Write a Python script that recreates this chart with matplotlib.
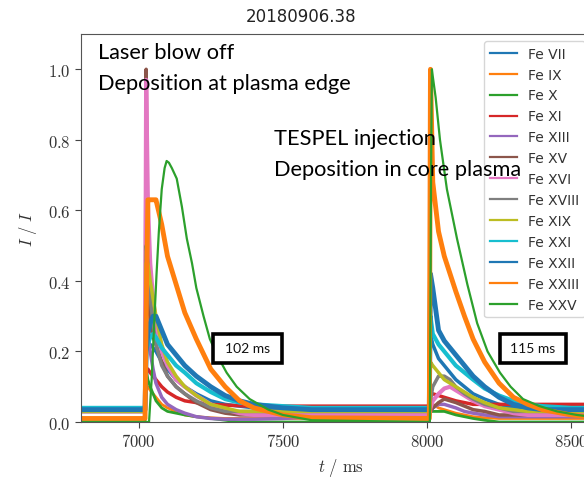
import matplotlib
matplotlib.use("Agg")
import matplotlib.pyplot as plt
from matplotlib.ticker import FuncFormatter
from matplotlib.patches import Rectangle

plt.rcParams['mathtext.fontset'] = 'cm'

title = "20180906.38"
labels = ["Fe VII", "Fe IX", "Fe X", "Fe XI", "Fe XIII", "Fe XV", "Fe XVI",
          "Fe XVIII", "Fe XIX", "Fe XXI", "Fe XXII", "Fe XXIII", "Fe XXV"]
colors = ["#1f77b4", "#ff7f0e", "#2ca02c", "#d62728", "#9467bd", "#8c564b", "#e377c2",
          "#7f7f7f", "#bcbd22", "#17becf", "#1f77b4", "#ff7f0e", "#2ca02c"]

t = [6800, 7022, 7026, 7032, 7040, 7050, 7060, 7080, 7100, 7130, 7160, 7200, 7250, 7300,
     7350, 7400, 7500, 7600, 8000, 8008, 8012, 8020, 8040, 8060, 8080, 8100, 8130, 8160,
     8200, 8250, 8300, 8350, 8400, 8500, 8600]

fe_vii = [0.035, 0.035, 0.22, 0.22, 0.22, 0.21, 0.2, 0.17, 0.15, 0.12, 0.1, 0.08, 0.06, 0.05,
          0.045, 0.04, 0.035, 0.035, 0.035, 0.035, 0.25, 0.22, 0.18, 0.16, 0.14, 0.12, 0.1, 0.08,
          0.065, 0.05, 0.04, 0.035, 0.035, 0.035, 0.035]
fe_ix = [0.01, 0.01, 0.1, 0.1, 0.09, 0.08, 0.07, 0.05, 0.04, 0.03, 0.02, 0.015, 0.012, 0.01,
         0.01, 0.01, 0.01, 0.01, 0.01, 0.01, 0.06, 0.05, 0.04, 0.035, 0.03, 0.025, 0.02, 0.015,
         0.012, 0.01, 0.01, 0.01, 0.01, 0.01, 0.01]
fe_x = [0.0, 0.0, 0.15, 0.12, 0.1, 0.08, 0.06, 0.04, 0.03, 0.025, 0.02, 0.015, 0.01, 0.005,
        0.0, 0.0, 0.0, 0.0, 0.0, 0.0, 0.03, 0.03, 0.03, 0.03, 0.025, 0.02, 0.015, 0.01,
        0.005, 0.0, 0.0, 0.0, 0.0, 0.0, 0.0]
fe_xi = [0.035, 0.035, 0.15, 0.15, 0.14, 0.13, 0.12, 0.1, 0.085, 0.07, 0.06, 0.055, 0.05, 0.048,
         0.046, 0.045, 0.045, 0.045, 0.045, 0.045, 0.08, 0.08, 0.075, 0.07, 0.065, 0.06, 0.055, 0.05,
         0.05, 0.05, 0.05, 0.05, 0.05, 0.05, 0.05]
fe_xiii = [0.04, 0.04, 0.3, 0.25, 0.2, 0.15, 0.11, 0.07, 0.05, 0.035, 0.025, 0.015, 0.01, 0.008,
           0.008, 0.008, 0.01, 0.015, 0.03, 0.03, 0.03, 0.04, 0.05, 0.05, 0.045, 0.04, 0.03, 0.025,
           0.02, 0.015, 0.015, 0.015, 0.015, 0.015, 0.015]
fe_xv = [0.03, 0.03, 1.0, 0.4, 0.28, 0.24, 0.22, 0.17, 0.13, 0.1, 0.08, 0.055, 0.035, 0.025,
         0.02, 0.02, 0.02, 0.02, 0.02, 0.02, 0.03, 0.04, 0.055, 0.065, 0.06, 0.055, 0.045, 0.035,
         0.03, 0.02, 0.02, 0.02, 0.02, 0.02, 0.02]
fe_xvi = [0.03, 0.03, 0.97, 0.62, 0.45, 0.35, 0.28, 0.2, 0.16, 0.12, 0.1, 0.075, 0.05, 0.035,
          0.025, 0.02, 0.02, 0.02, 0.02, 0.02, 0.04, 0.06, 0.08, 0.095, 0.1, 0.09, 0.075, 0.06,
          0.045, 0.035, 0.025, 0.02, 0.02, 0.02, 0.02]
fe_xviii = [0.03, 0.03, 0.5, 0.45, 0.35, 0.28, 0.22, 0.16, 0.13, 0.1, 0.08, 0.06, 0.04, 0.03,
            0.03, 0.03, 0.03, 0.03, 0.03, 0.03, 0.06, 0.1, 0.13, 0.13, 0.12, 0.1, 0.08, 0.065,
            0.05, 0.04, 0.03, 0.03, 0.03, 0.03, 0.03]
fe_xix = [0.03, 0.03, 0.45, 0.45, 0.4, 0.35, 0.3, 0.22, 0.17, 0.13, 0.1, 0.075, 0.05, 0.04,
          0.03, 0.03, 0.03, 0.03, 0.03, 0.03, 0.17, 0.16, 0.14, 0.12, 0.11, 0.1, 0.085, 0.07,
          0.055, 0.04, 0.035, 0.03, 0.03, 0.03, 0.03]
fe_xxi = [0.04, 0.04, 0.2, 0.22, 0.24, 0.25, 0.24, 0.21, 0.19, 0.16, 0.14, 0.11, 0.085, 0.065,
          0.055, 0.05, 0.045, 0.04, 0.04, 0.04, 0.3, 0.25, 0.22, 0.2, 0.18, 0.16, 0.14, 0.12,
          0.095, 0.075, 0.06, 0.05, 0.045, 0.04, 0.04]
fe_xxii = [0.035, 0.035, 0.2, 0.25, 0.28, 0.3, 0.3, 0.26, 0.22, 0.19, 0.16, 0.13, 0.1, 0.075,
           0.06, 0.05, 0.04, 0.035, 0.035, 0.035, 0.42, 0.38, 0.26, 0.23, 0.21, 0.19, 0.16, 0.13,
           0.1, 0.07, 0.05, 0.04, 0.035, 0.035, 0.035]
fe_xxiii = [0.01, 0.01, 0.3, 0.63, 0.63, 0.63, 0.63, 0.56, 0.47, 0.39, 0.31, 0.235, 0.15, 0.1,
            0.06, 0.04, 0.02, 0.012, 0.01, 0.01, 1.0, 0.68, 0.54, 0.47, 0.42, 0.37, 0.3, 0.235,
            0.17, 0.11, 0.07, 0.05, 0.035, 0.02, 0.012]

# Fe XXV is smooth, read at its own times
t_xxv = [6800, 7036, 7045, 7055, 7062, 7070, 7080, 7090, 7097, 7105, 7115, 7132, 7150, 7167,
         7185, 7200, 7225, 7247, 7275, 7305, 7340, 7385, 7450, 7500, 7600, 8000, 8010, 8014,
         8017, 8020, 8030, 8045, 8069, 8104, 8140, 8174, 8210, 8253, 8290, 8333, 8390, 8451,
         8520, 8600]
fe_xxv = [0.0, 0.0, 0.12, 0.3, 0.42, 0.54, 0.66, 0.72, 0.74, 0.735, 0.72, 0.69, 0.61, 0.52,
          0.45, 0.38, 0.3, 0.235, 0.185, 0.14, 0.1, 0.065, 0.035, 0.02, 0.005, 0.0, 0.0, 0.7,
          1.0, 0.98, 0.92, 0.8, 0.66, 0.52, 0.39, 0.28, 0.2, 0.14, 0.1, 0.065, 0.045, 0.03,
          0.02, 0.012]

series = [fe_vii, fe_ix, fe_x, fe_xi, fe_xiii, fe_xv, fe_xvi, fe_xviii, fe_xix, fe_xxi,
          fe_xxii, fe_xxiii]
widths = [2.5, 2.0, 2.0, 2.5, 2.5, 2.5, 3.0, 2.5, 2.5, 3.0, 3.5, 3.5]

W, H = 584, 481
fig = plt.figure(figsize=(W / 100, H / 100), dpi=100)
ax = fig.add_axes([81 / W, (H - 423) / H, (600 - 81) / W, (423 - 35) / H])

handles = []
for vals, c, lw, lab in zip(series, colors[:12], widths, labels[:12]):
    ax.plot(t, vals, color=c, lw=lw)
    h, = ax.plot([], [], color=c, lw=1.6, label=lab)
    handles.append(h)
ax.plot(t_xxv, fe_xxv, color=colors[12], lw=1.6)
h, = ax.plot([], [], color=colors[12], lw=1.6, label=labels[12])
handles.append(h)

ax.set_xlim(6800, 8600)
ax.set_ylim(0, 1.1)
ax.set_xticks([7000, 7500, 8000, 8500])
ax.set_yticks([0.0, 0.2, 0.4, 0.6, 0.8, 1.0])
ax.xaxis.set_major_formatter(FuncFormatter(lambda v, p: r'$%d$' % v))
ax.yaxis.set_major_formatter(FuncFormatter(lambda v, p: r'$%.1f$' % v))
ax.tick_params(labelsize=12, length=4, color='#444444', labelcolor='#333333')
for s in ax.spines.values():
    s.set_color('#555555')
ax.set_xlabel(r'$t\ /\ \mathrm{ms}$', fontsize=12, color='#333333')
ax.set_ylabel(r'$I\ /\ I$', fontsize=12, color='#333333', labelpad=6)

fig.text(301.5 / W, 1 - 17 / H, title, ha='center', va='center', fontsize=12,
         family='DejaVu Sans', color='#222222')

leg = ax.legend(handles=handles, loc='upper left', bbox_to_anchor=(484 / W, 1 - 42 / H),
                bbox_transform=fig.transFigure, borderaxespad=0, fontsize=10,
                labelspacing=0.5, handlelength=2.0, frameon=True, fancybox=True)
leg.get_frame().set_edgecolor('#cccccc')
for txt in leg.get_texts():
    txt.set_color('#333333')

tf = dict(fontsize=15.7, family='Lato', color='black', va='center', ha='left')
fig.text(98 / W, 1 - 53 / H, "Laser blow off", **tf)
fig.text(98 / W, 1 - 84 / H, "Deposition at plasma edge", **tf)
fig.text(274 / W, 1 - 139 / H, "TESPEL injection", **tf)
fig.text(274 / W, 1 - 170 / H, "Deposition in core plasma", **tf)

for (x0, x1, y0, y1, s) in [(213, 282, 335, 364, "102 ms"), (500, 566, 335, 364, "115 ms")]:
    fig.patches.append(Rectangle((x0 / W, 1 - y1 / H), (x1 - x0) / W, (y1 - y0) / H,
                                 transform=fig.transFigure, fc='white', ec='black', lw=2.6,
                                 zorder=5))
    fig.text((x0 + x1) / 2 / W, 1 - (y0 + y1) / 2 / H, s, fontsize=10, family='Lato',
             ha='center', va='center', zorder=6, color='#111111')

fig.savefig('out.png', dpi=100)
